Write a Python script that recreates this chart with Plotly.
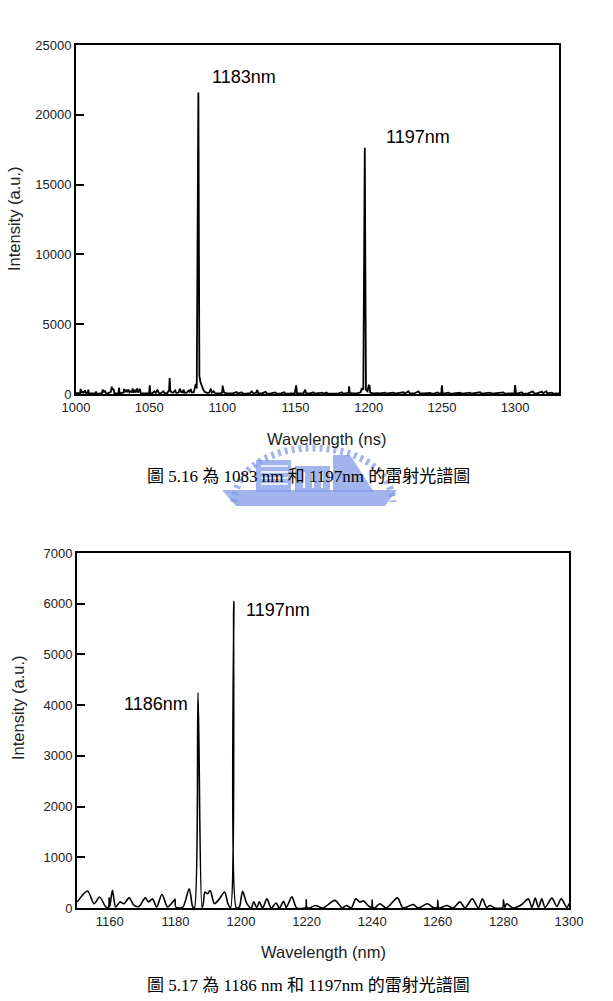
import plotly.graph_objects as go

# ---------------- data: top spectrum (Fig 5.16) ----------------
top_wavelength = [
    1000.0, 1001.5, 1002.8, 1003.2, 1003.6, 1004.5, 1005.0, 1006.2, 1006.8, 1008.0,
    1008.4, 1008.8, 1011.0, 1013.3, 1013.7, 1014.1, 1016.0, 1017.8, 1018.2, 1019.0,
    1019.8, 1020.4, 1022.0, 1023.8, 1024.4, 1025.0, 1025.6, 1026.2, 1028.0, 1029.0,
    1029.4, 1029.8, 1031.0, 1032.4, 1032.8, 1033.5, 1034.5, 1035.2, 1035.8, 1036.6,
    1037.6, 1038.3, 1038.7, 1039.3, 1040.2, 1040.8, 1041.9, 1042.5, 1043.7, 1044.2,
    1046.0, 1048.0, 1050.0, 1050.4, 1050.8, 1052.0, 1053.5, 1054.5, 1055.6, 1056.5,
    1058.0, 1059.7, 1060.5, 1062.5, 1063.6, 1064.0, 1064.5, 1065.5, 1066.5, 1067.7,
    1068.5, 1070.0, 1071.1, 1071.8, 1073.0, 1073.4, 1074.2, 1075.5, 1076.8, 1077.5,
    1078.4, 1079.2, 1080.5, 1081.8, 1082.5, 1083.6, 1084.3, 1085.0, 1086.0, 1087.0,
    1088.0, 1089.5, 1091.0, 1092.1, 1092.8, 1094.0, 1095.0, 1097.0, 1099.0, 1099.8,
    1100.2, 1100.7, 1101.2, 1103.0, 1105.0, 1107.0, 1109.8, 1110.5, 1113.2, 1114.0,
    1117.0, 1119.0, 1120.1, 1121.0, 1123.0, 1123.9, 1124.6, 1127.0, 1129.6, 1130.4,
    1133.0, 1136.0, 1137.0, 1140.0, 1142.2, 1143.0, 1146.0, 1149.5, 1150.4, 1151.0,
    1153.0, 1155.5, 1156.5, 1157.3, 1160.0, 1162.2, 1163.0, 1166.0, 1168.0, 1169.0,
    1171.3, 1172.0, 1175.0, 1178.0, 1179.0, 1181.6, 1182.4, 1185.0, 1186.2, 1186.6,
    1187.0, 1189.0, 1192.0, 1194.5, 1195.3, 1196.3, 1197.3, 1198.1, 1199.2, 1200.0,
    1200.6, 1201.0, 1203.0, 1206.0, 1208.0, 1211.2, 1212.0, 1214.0, 1216.9, 1218.0,
    1220.0, 1223.7, 1224.5, 1227.2, 1228.0, 1231.0, 1234.0, 1235.0, 1238.0, 1242.0,
    1243.0, 1245.0, 1247.0, 1248.0, 1249.6, 1250.0, 1250.5, 1252.0, 1254.5, 1255.5,
    1258.0, 1262.5, 1263.5, 1266.0, 1269.3, 1270.0, 1273.0, 1276.1, 1277.0, 1280.0,
    1283.0, 1284.0, 1288.0, 1292.1, 1293.0, 1296.0, 1299.6, 1300.0, 1300.6, 1302.0,
    1304.6, 1305.5, 1309.0, 1312.1, 1313.0, 1315.0, 1318.3, 1319.0, 1321.3, 1322.0,
    1325.1, 1326.0, 1328.5, 1330.0,
]
top_intensity = [
    60, 40, 60, 360, 80, 200, 60, 260, 50, 80,
    310, 40, 30, 40, 170, 30, 40, 60, 310, 120,
    240, 50, 60, 150, 520, 300, 380, 60, 50, 60,
    450, 50, 80, 100, 360, 150, 300, 120, 330, 100,
    200, 120, 400, 90, 300, 100, 400, 100, 360, 60,
    40, 50, 60, 620, 60, 40, 190, 60, 310, 80,
    60, 190, 60, 70, 300, 1150, 200, 120, 100, 260,
    80, 90, 380, 150, 120, 310, 100, 90, 240, 120,
    360, 100, 120, 720, 400, 21600, 1300, 850, 500, 300,
    150, 80, 90, 380, 100, 200, 60, 40, 50, 100,
    600, 300, 100, 50, 60, 40, 140, 30, 120, 30,
    40, 60, 190, 60, 80, 290, 50, 40, 150, 30,
    40, 110, 30, 40, 120, 30, 40, 60, 620, 60,
    40, 60, 310, 50, 40, 120, 30, 40, 100, 30,
    100, 30, 40, 80, 30, 120, 30, 60, 100, 550,
    80, 40, 50, 120, 430, 300, 17640, 300, 200, 620,
    600, 100, 40, 60, 40, 100, 30, 60, 100, 30,
    50, 120, 30, 190, 40, 40, 190, 40, 40, 80,
    30, 40, 110, 30, 60, 620, 60, 40, 100, 30,
    40, 90, 30, 40, 100, 30, 50, 120, 30, 40,
    100, 30, 50, 110, 30, 40, 60, 640, 60, 40,
    120, 30, 40, 190, 50, 40, 170, 40, 190, 40,
    100, 30, 60, 40,
]

# ---------------- data: bottom spectrum (Fig 5.17) ----------------
bot_wavelength = [
    1150.1, 1153.2, 1155.2, 1156.9, 1158.8, 1159.6, 1159.8, 1160.0, 1160.8, 1161.8,
    1163.1, 1164.3, 1165.9, 1167.4, 1168.9, 1170.8, 1171.8, 1173.0, 1174.3, 1175.9,
    1177.6, 1179.2, 1179.9, 1180.1, 1182.2, 1184.2, 1185.3, 1185.8, 1186.9, 1188.1,
    1188.5, 1189.0, 1189.8, 1190.6, 1191.9, 1193.4, 1195.0, 1196.0, 1196.8, 1197.8,
    1198.6, 1199.5, 1200.0, 1200.5, 1201.8, 1203.1, 1203.9, 1204.8, 1205.6, 1206.6,
    1207.9, 1209.2, 1210.7, 1211.7, 1213.0, 1213.8, 1215.5, 1217.0, 1219.7, 1219.9,
    1220.1, 1220.9, 1222.7, 1225.0, 1228.6, 1230.9, 1232.1, 1233.6, 1235.0, 1236.2,
    1237.4, 1238.7, 1239.8, 1240.0, 1240.2, 1240.8, 1242.3, 1244.3, 1247.7, 1249.4,
    1252.5, 1254.0, 1256.9, 1258.6, 1259.8, 1260.0, 1260.2, 1260.6, 1262.7, 1264.7,
    1266.8, 1268.3, 1270.5, 1272.4, 1273.6, 1274.9, 1275.9, 1277.4, 1279.8, 1280.0,
    1280.4, 1281.0, 1283.0, 1285.6, 1287.6, 1288.7, 1289.7, 1290.7, 1291.7, 1292.7,
    1294.8, 1296.3, 1297.6, 1299.4, 1300.0,
]
bot_intensity = [
    120, 335, 85, 217, 20, 10, 200, 30, 348, 20,
    120, 85, 200, 50, 30, 200, 120, 180, 20, 270,
    20, 120, 170, 20, 10, 380, 20, 0, 4250, 0,
    85, 315, 280, 345, 85, 180, 315, 85, 0, 6050,
    0, 20, 180, 330, 85, 0, 120, 10, 120, 0,
    180, 0, 100, 0, 130, 10, 220, 0, 10, 160,
    10, 0, 50, 0, 150, 0, 50, 0, 180, 120,
    140, 50, 10, 160, 10, 0, 85, 0, 200, 0,
    70, 0, 85, 10, 10, 150, 10, 0, 50, 0,
    120, 0, 180, 0, 180, 10, 50, 0, 10, 160,
    10, 85, 0, 70, 180, 10, 195, 10, 180, 10,
    195, 30, 180, 10, 90,
]

top_ticks_x = [1000, 1050, 1100, 1150, 1200, 1250, 1300]
top_ticks_y = [0, 5000, 10000, 15000, 20000, 25000]
bot_ticks_x = [1160, 1180, 1200, 1220, 1240, 1260, 1280, 1300]
bot_ticks_y = [0, 1000, 2000, 3000, 4000, 5000, 6000, 7000]

W, H = 613, 1001
FONT = "Liberation Sans, Arial, sans-serif"
CAP_FONT = "Liberation Serif, Times New Roman, Noto Sans CJK TC, serif"


def px(x):
    return x / W


def py(y):
    return 1 - y / H


fig = go.Figure()
fig.add_trace(go.Scatter(x=top_wavelength, y=top_intensity, mode="lines",
                         line=dict(color="black", width=1.8), xaxis="x", yaxis="y",
                         showlegend=False))
fig.add_trace(go.Scatter(x=bot_wavelength, y=bot_intensity, mode="lines",
                         line=dict(color="black", width=1.6, shape="spline", smoothing=0.8),
                         xaxis="x2", yaxis="y2", showlegend=False))

axis_common = dict(showline=True, mirror=True, linewidth=2, linecolor="black",
                   showgrid=False, zeroline=False, automargin=False, tickformat="d",
                   tickfont=dict(family=FONT, size=13, color="#222"))

fig.update_layout(
    template="none",
    width=W, height=H,
    margin=dict(l=0, r=0, t=0, b=0, pad=0),
    paper_bgcolor="white", plot_bgcolor="white",
    xaxis=dict(domain=[px(76), px(559)], range=[1000, 1330], tickvals=top_ticks_x,
               ticks="", anchor="y", **axis_common),
    yaxis=dict(domain=[py(394), py(45)], range=[0, 25000], tickvals=top_ticks_y,
               ticks="inside", ticklen=8, tickwidth=2, tickcolor="black",
               anchor="x", **axis_common),
    xaxis2=dict(domain=[px(77), px(569)], range=[1150, 1300], tickvals=bot_ticks_x,
                ticks="", anchor="y2", **axis_common),
    yaxis2=dict(domain=[py(908), py(553)], range=[0, 7000], tickvals=bot_ticks_y,
                ticks="inside", ticklen=8, tickwidth=2, tickcolor="black",
                anchor="x2", **axis_common),
)

# ---------------- watermark (decorative logo behind caption) ----------------
wm = "rgba(130,155,228,0.75)"
shapes = []
shapes.append(dict(type="path", xref="paper", yref="paper",
                   path=f"M {px(234)} {py(502)} C {px(238)} {py(430)}, {px(388)} {py(430)}, {px(393)} {py(502)}",
                   line=dict(color=wm, width=7, dash="3px,4px"), layer="below"))
shapes.append(dict(type="rect", xref="paper", yref="paper", x0=px(256), x1=px(291), y0=py(492), y1=py(460),
                   fillcolor=wm, line=dict(width=0), layer="below"))
shapes.append(dict(type="rect", xref="paper", yref="paper", x0=px(295), x1=px(330), y0=py(492), y1=py(466),
                   fillcolor=wm, line=dict(width=0), layer="below"))
shapes.append(dict(type="path", xref="paper", yref="paper",
                   path=f"M {px(333)} {py(492)} L {px(333)} {py(455)} L {px(350)} {py(455)} L {px(374)} {py(492)} Z",
                   fillcolor=wm, line=dict(width=0), layer="below"))
for yy in (466, 472, 478, 484):
    shapes.append(dict(type="line", xref="paper", yref="paper", x0=px(261), x1=px(288), y0=py(yy), y1=py(yy),
                       line=dict(color="white", width=1.5), layer="below"))
for xx in (304, 313, 322):
    shapes.append(dict(type="line", xref="paper", yref="paper", x0=px(xx), x1=px(xx), y0=py(472), y1=py(488),
                       line=dict(color="white", width=2), layer="below"))
shapes.append(dict(type="path", xref="paper", yref="paper",
                   path=f"M {px(222)} {py(490)} L {px(397)} {py(490)} L {px(385)} {py(506)} L {px(236)} {py(506)} Z",
                   fillcolor=wm, line=dict(width=0), layer="below"))
fig.update_layout(shapes=shapes)

# ---------------- text ----------------
def text(x, y, s, xref, yref, size, fam=FONT, color="black", angle=0):
    return dict(x=x, y=y, xref=xref, yref=yref, text=s, showarrow=False,
                xanchor="center", yanchor="middle", textangle=angle,
                font=dict(family=fam, size=size, color=color))


ann = [
    text(1114.8, 22730, "1183nm", "x", "y", 18),
    text(1234, 18430, "1197nm", "x", "y", 18),
    text(1174.0, 4017, "1186nm", "x2", "y2", 18),
    text(1211.2, 5877, "1197nm", "x2", "y2", 18),
    text(px(327), py(439), "Wavelength (ns)", "paper", "paper", 16.5, color="#222"),
    text(px(14), py(219), "Intensity (a.u.)", "paper", "paper", 16.5, color="#222", angle=-90),
    text(px(323), py(952), "Wavelength (nm)", "paper", "paper", 16.5, color="#222"),
    text(px(18), py(708), "Intensity (a.u.)", "paper", "paper", 16.5, color="#222", angle=-90),
    text(px(308), py(477), "圖 5.16 為 1083 nm 和 1197nm 的雷射光譜圖", "paper", "paper", 17, fam=CAP_FONT),
    text(px(308), py(985), "圖 5.17 為 1186 nm 和 1197nm 的雷射光譜圖", "paper", "paper", 17, fam=CAP_FONT),
]
fig.update_layout(annotations=ann)

fig.write_html("out.html")
